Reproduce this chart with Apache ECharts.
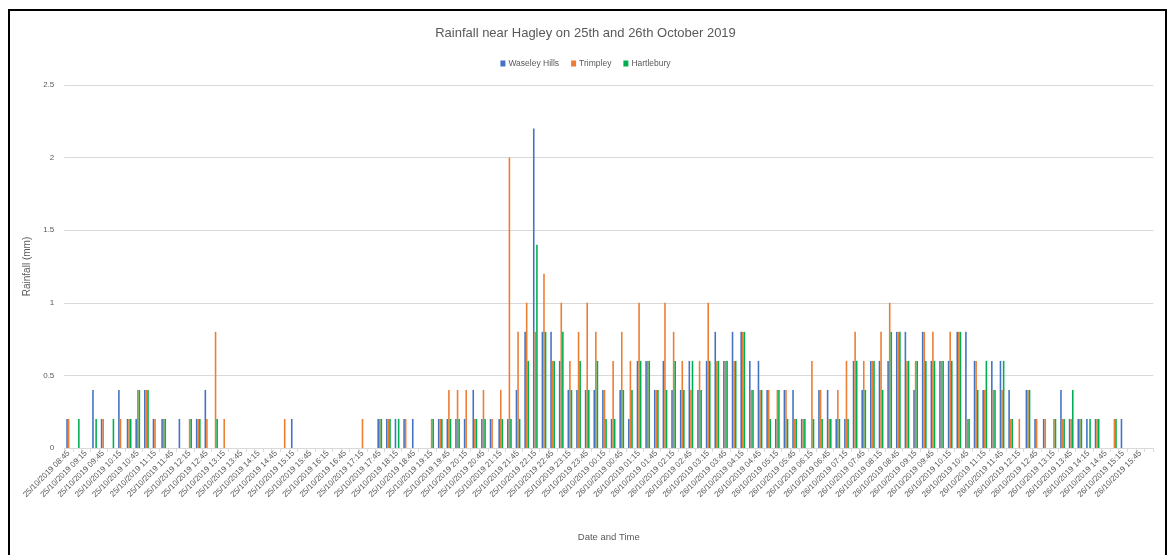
<!DOCTYPE html>
<html>
<head>
<meta charset="utf-8">
<title>Rainfall near Hagley</title>
<script src="https://cdn.jsdelivr.net/npm/echarts@6/dist/echarts.min.js"></script>
<style>
  html, body { margin: 0; padding: 0; background: #ffffff; }
  #chart { width: 1171px; height: 555px; }
</style>
</head>
<body>
<div id="chart"></div>
<script>
// 15-minute logging slots, 25/10/2019 08:45 to 26/10/2019 16:00
const startDay = 25;
const startMinutes = 8 * 60 + 45;
const slotCount = 126;
const categories = [];
for (let k = 0; k < slotCount; k++) {
  const m = startMinutes + k * 15;
  const day = startDay + Math.floor(m / 1440);
  const mm = m % 1440;
  const hh = String(Math.floor(mm / 60)).padStart(2, '0');
  const mi = String(mm % 60).padStart(2, '0');
  categories.push(day + '/10/2019 ' + hh + ':' + mi);
}

// Rainfall per slot (mm), 0.2 mm gauge tips
const waseleyHills = [
  0.2, 0, 0, 0.4, 0.2, 0, 0.4, 0.2, 0.2, 0.4,
  0.2, 0.2, 0, 0.2, 0, 0.2, 0.4, 0, 0, 0,
  0, 0, 0, 0, 0, 0, 0.2, 0, 0, 0,
  0, 0, 0, 0, 0, 0, 0.2, 0.2, 0.2, 0.2,
  0.2, 0, 0, 0.2, 0.2, 0.2, 0.2, 0.4, 0.2, 0.2,
  0.2, 0.2, 0.4, 0.8, 2.2, 0.8, 0.8, 0.6, 0.4, 0.4,
  0.4, 0.4, 0.4, 0.2, 0.4, 0.2, 0.6, 0.6, 0.4, 0.6,
  0.4, 0.4, 0.6, 0.4, 0.6, 0.8, 0.6, 0.8, 0.8, 0.6,
  0.6, 0.4, 0.2, 0.4, 0.4, 0.2, 0, 0.4, 0.4, 0.2,
  0.2, 0.6, 0.4, 0.6, 0.6, 0.6, 0.8, 0.8, 0.4, 0.8,
  0.6, 0.6, 0.6, 0.8, 0.8, 0.6, 0.4, 0.6, 0.6, 0.4,
  0, 0.4, 0.2, 0.2, 0, 0.4, 0.2, 0.2, 0.2, 0.2,
  0, 0, 0.2, 0, 0, 0
];
const trimpley = [
  0.2, 0, 0, 0, 0.2, 0, 0.2, 0.2, 0.4, 0.4,
  0.2, 0.2, 0, 0, 0.2, 0.2, 0.2, 0.8, 0.2, 0,
  0, 0, 0, 0, 0, 0.2, 0, 0, 0, 0,
  0, 0, 0, 0, 0.2, 0, 0.2, 0.2, 0, 0.2,
  0, 0, 0.2, 0.2, 0.4, 0.4, 0.4, 0.2, 0.4, 0.2,
  0.4, 2.0, 0.8, 1.0, 0.8, 1.2, 0.6, 1.0, 0.6, 0.8,
  1.0, 0.8, 0.4, 0.6, 0.8, 0.6, 1.0, 0.6, 0.4, 1.0,
  0.8, 0.6, 0.4, 0.6, 1.0, 0.6, 0.6, 0.6, 0.8, 0.4,
  0.4, 0.4, 0.4, 0.4, 0.2, 0.2, 0.6, 0.4, 0.2, 0.4,
  0.6, 0.8, 0.6, 0.6, 0.8, 1.0, 0.8, 0.6, 0.6, 0.8,
  0.8, 0.6, 0.8, 0.8, 0.2, 0.6, 0.4, 0.4, 0.4, 0.2,
  0.2, 0.4, 0.2, 0.2, 0.2, 0.2, 0.2, 0.2, 0, 0.2,
  0, 0.2, 0, 0, 0, 0
];
const hartlebury = [
  0, 0.2, 0, 0.2, 0, 0.2, 0, 0.2, 0.4, 0.4,
  0, 0.2, 0, 0, 0.2, 0.2, 0, 0.2, 0, 0,
  0, 0, 0, 0, 0, 0, 0, 0, 0, 0,
  0, 0, 0, 0, 0, 0, 0.2, 0.2, 0.2, 0,
  0, 0, 0.2, 0.2, 0.2, 0.2, 0, 0.2, 0.2, 0,
  0.2, 0.2, 0.2, 0.6, 1.4, 0.8, 0.6, 0.8, 0.4, 0.6,
  0.4, 0.6, 0.2, 0.2, 0.4, 0.4, 0.6, 0.6, 0.4, 0.4,
  0.6, 0.4, 0.6, 0.4, 0.6, 0.6, 0.6, 0.6, 0.8, 0.4,
  0.4, 0.2, 0.4, 0.2, 0.2, 0.2, 0.2, 0.2, 0.2, 0.2,
  0.2, 0.6, 0.4, 0.6, 0.4, 0.8, 0.8, 0.6, 0.6, 0.6,
  0.6, 0.6, 0.6, 0.8, 0.2, 0.4, 0.6, 0.4, 0.6, 0.2,
  0, 0.4, 0, 0, 0.2, 0.2, 0.4, 0.2, 0.2, 0.2,
  0, 0.2, 0, 0, 0, 0
];

const stationNames = ['Waseley Hills', 'Trimpley', 'Hartlebury'];
const stationColors = ['#4472C4', '#ED7D31', '#00B050'];
const yTicks = { min: 0, max: 2.5, step: 0.5 };

const textColor = '#595959';
const gridColor = '#D9D9D9';
const fontFamily = '"Liberation Sans", Arial, sans-serif';

const chart = echarts.init(document.getElementById('chart'), null, { renderer: 'canvas' });

chart.setOption({
  backgroundColor: '#ffffff',
  animation: false,
  textStyle: { fontFamily: fontFamily },
  title: {
    text: 'Rainfall near Hagley on 25th and 26th October 2019',
    left: 'center',
    top: 22,
    textStyle: { fontSize: 13, fontWeight: 'normal', color: textColor, fontFamily: fontFamily }
  },
  legend: {
    data: stationNames,
    top: 54,
    left: 'center',
    itemWidth: 5,
    itemHeight: 6,
    itemGap: 12,
    icon: 'rect',
    textStyle: { fontSize: 8.5, color: textColor, padding: [0, 0, 0, -2] }
  },
  grid: { left: 64.3, right: 17.7, top: 85, bottom: 107, containLabel: false },
  xAxis: {
    type: 'category',
    data: categories,
    boundaryGap: true,
    name: 'Date and Time',
    nameLocation: 'middle',
    nameGap: 84,
    nameTextStyle: { fontSize: 9.5, color: textColor },
    axisLine: { lineStyle: { color: gridColor, width: 1 } },
    axisTick: { show: true, interval: 0, length: 4, lineStyle: { color: gridColor } },
    axisLabel: { interval: 1, rotate: 45, fontSize: 8, color: textColor, margin: 4 },
    splitLine: { show: false }
  },
  yAxis: {
    type: 'value',
    min: yTicks.min,
    max: yTicks.max,
    interval: yTicks.step,
    name: 'Rainfall (mm)',
    nameLocation: 'middle',
    nameRotate: 90,
    nameGap: 31,
    nameTextStyle: { fontSize: 10, color: textColor },
    axisLine: { show: false },
    axisTick: { show: false },
    axisLabel: { fontSize: 8, color: textColor, margin: 10 },
    splitLine: { lineStyle: { color: gridColor, width: 1 } }
  },
  series: [waseleyHills, trimpley, hartlebury].map(function (values, k) {
    return {
      name: stationNames[k],
      type: 'bar',
      data: values,
      barGap: '0%',
      barCategoryGap: '45%',
      itemStyle: { color: stationColors[k] }
    };
  }),
  graphic: [
    {
      type: 'rect',
      silent: true,
      z: 100,
      shape: { x: 9, y: 10, width: 1157, height: 560 },
      style: { fill: 'none', stroke: '#000000', lineWidth: 2 }
    }
  ]
});
</script>
</body>
</html>
